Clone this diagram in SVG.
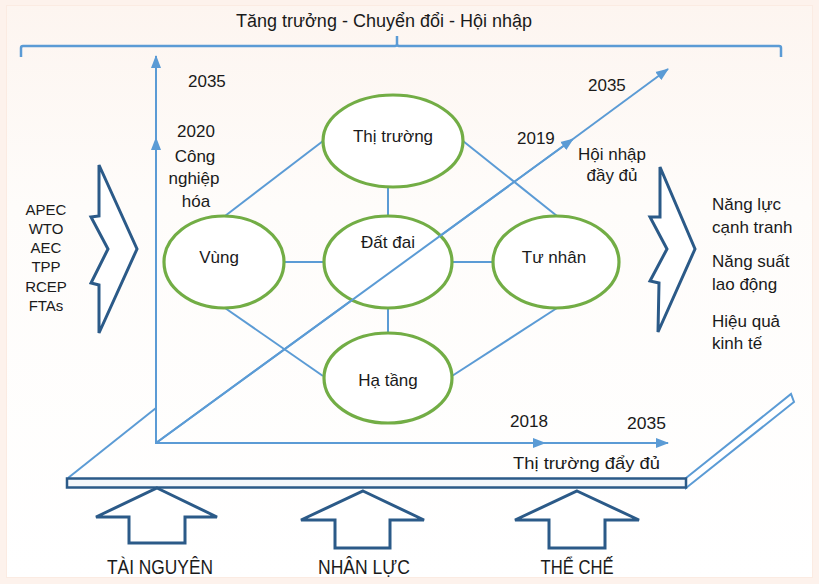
<svg xmlns="http://www.w3.org/2000/svg" width="819" height="584" viewBox="0 0 819 584">
<defs>
<linearGradient id="bg" x1="0" y1="0" x2="0" y2="1">
<stop offset="0" stop-color="#fdf5f0"/>
<stop offset="0.35" stop-color="#fefcfa"/>
<stop offset="1" stop-color="#ffffff"/>
</linearGradient>
<marker id="ah" markerUnits="userSpaceOnUse" markerWidth="14" markerHeight="12" refX="12" refY="6" orient="auto" viewBox="0 0 14 12">
<path d="M0,1 L13,6 L0,11 Z" fill="#5b9bd5"/>
</marker>
<style>
.ax{stroke:#5b9bd5;stroke-width:2;fill:none}
.cn{stroke:#5b9bd5;stroke-width:2;fill:none}
.el{stroke:#72ad45;stroke-width:3.2;fill:#ffffff}
.dk{stroke:#2b5a88;stroke-width:3;fill:#ffffff;stroke-linejoin:miter}
.t{font-family:"Liberation Sans",Arial,sans-serif;fill:#1a1a1a}
.n{font-size:17px;text-anchor:middle}
.s{font-size:15px}
.c{font-size:17px}
.b{font-size:20px;text-anchor:middle}
</style>
</defs>
<rect x="0" y="0" width="819" height="584" fill="#fdf2ec"/>
<rect x="6.5" y="5.5" width="806" height="572" fill="url(#bg)" stroke="#fbebe2" stroke-width="1"/>

<!-- title and bracket -->
<g id="title">
<text class="t" x="384" y="27" font-size="18" text-anchor="middle" textLength="296" lengthAdjust="spacingAndGlyphs">Tăng trưởng - Chuyển đổi - Hội nhập</text>
<path d="M21,57 L21,48 Q21,46 23,46 L395,46 Q397,46 397,44 L397,36 M397,36 L397,44 Q397,46 399,46 L779,46 Q781,46 781,48 L781,57" fill="none" stroke="#5b9bd5" stroke-width="2.5"/>
</g>

<!-- platform -->
<g id="platform">
<line class="ax" x1="68" y1="478" x2="156" y2="408"/>
<polygon points="686,478 791,394 794,402 686,488" fill="#ffffff" stroke="#5b9bd5" stroke-width="2"/>
<rect x="67" y="478.5" width="619" height="9" fill="#f4f7fb" stroke="#2b5a88" stroke-width="2.5"/>
</g>

<!-- axes -->
<g id="axes">
<line class="ax" x1="156" y1="444" x2="156" y2="138" marker-end="url(#ah)"/>
<line class="ax" x1="156" y1="138" x2="156" y2="56" marker-end="url(#ah)"/>
<line class="ax" x1="155" y1="443" x2="545" y2="443" marker-end="url(#ah)"/>
<line class="ax" x1="545" y1="443" x2="668" y2="443" marker-end="url(#ah)"/>
<line class="ax" x1="156" y1="443" x2="573" y2="139" marker-end="url(#ah)"/>
<line class="ax" x1="573" y1="139" x2="668" y2="69" marker-end="url(#ah)"/>
</g>

<!-- connectors -->
<g id="connectors">
<line class="cn" x1="225" y1="216" x2="323" y2="141"/>
<line class="cn" x1="463" y1="141" x2="557" y2="216"/>
<line class="cn" x1="388" y1="187" x2="388" y2="216"/>
<line class="cn" x1="284" y1="262" x2="324" y2="262"/>
<line class="cn" x1="452" y1="262" x2="493" y2="262"/>
<line class="cn" x1="388" y1="308" x2="388" y2="333"/>
<line class="cn" x1="225" y1="308" x2="323" y2="376"/>
<line class="cn" x1="452" y1="376" x2="557" y2="308"/>
</g>

<g id="node-thitruong">
<ellipse class="el" cx="393" cy="141" rx="70" ry="46"/>
<text class="t n" x="393" y="142">Thị trường</text>
</g>
<g id="node-vung">
<ellipse class="el" cx="224" cy="262" rx="60" ry="46"/>
<text class="t n" x="219" y="263">Vùng</text>
</g>
<g id="node-datdai">
<ellipse class="el" cx="388" cy="262" rx="64" ry="46"/>
<text class="t n" x="388" y="248">Đất đai</text>
</g>
<g id="node-tunhan">
<ellipse class="el" cx="556" cy="262" rx="63" ry="46"/>
<text class="t n" x="554" y="263">Tư nhân</text>
</g>
<g id="node-hatang">
<ellipse class="el" cx="388" cy="378" rx="64" ry="45"/>
<text class="t n" x="388" y="386">Hạ tầng</text>
</g>
<g id="diag-over">
<line class="ax" x1="156" y1="443" x2="573" y2="139"/>
</g>

<!-- axis labels -->
<g id="labels-vertical">
<text class="t c" x="188" y="87">2035</text>
<text class="t c" x="196" y="137" text-anchor="middle">2020</text>
<text class="t c" x="195" y="162" text-anchor="middle">Công</text>
<text class="t c" x="194" y="184" text-anchor="middle">nghiệp</text>
<text class="t c" x="196" y="207" text-anchor="middle">hóa</text>
</g>
<g id="labels-diagonal">
<text class="t c" x="588" y="91">2035</text>
<text class="t c" x="517" y="144">2019</text>
<text class="t c" x="612" y="160" text-anchor="middle">Hội nhập</text>
<text class="t c" x="612" y="181" text-anchor="middle">đầy đủ</text>
</g>
<g id="labels-horizontal">
<text class="t" x="510" y="427" font-size="17" textLength="38" lengthAdjust="spacingAndGlyphs">2018</text>
<text class="t" x="627" y="429" font-size="17" textLength="39" lengthAdjust="spacingAndGlyphs">2035</text>
<text class="t" x="513" y="469" font-size="17" textLength="147" lengthAdjust="spacingAndGlyphs">Thị trường đẩy đủ</text>
</g>

<!-- left chevron -->
<g id="left-chevron">
<polygon class="dk" points="99,165 137,249 99,333 99,285 91,283 108,249 91,217 99,216"/>
<text class="t s" x="46" y="215" text-anchor="middle">APEC</text>
<text class="t s" x="46" y="234" text-anchor="middle">WTO</text>
<text class="t s" x="46" y="253" text-anchor="middle">AEC</text>
<text class="t s" x="46" y="272" text-anchor="middle">TPP</text>
<text class="t s" x="46" y="292" text-anchor="middle">RCEP</text>
<text class="t s" x="46" y="311" text-anchor="middle">FTAs</text>
</g>

<!-- right chevron -->
<g id="right-chevron">
<polygon class="dk" points="660,167 695,249 658,332 659,283 650,281 667,249 650,217 660,217"/>
<text class="t c" x="712" y="210">Năng lực</text>
<text class="t c" x="712" y="233">cạnh tranh</text>
<text class="t c" x="712" y="267">Năng suất</text>
<text class="t c" x="712" y="290">lao động</text>
<text class="t c" x="712" y="327">Hiệu quả</text>
<text class="t c" x="712" y="349">kinh tế</text>
</g>

<!-- bottom arrows -->
<g id="arrow-tainguyen">
<polygon class="dk" points="157,488 217,517 185,517 185,543 129,543 129,517 96,517"/>
<text class="t b" x="160" y="574" textLength="106" lengthAdjust="spacingAndGlyphs">TÀI NGUYÊN</text>
</g>
<g id="arrow-nhanluc">
<polygon class="dk" points="363,491 424,520 390,520 390,548 335,548 335,520 301,520"/>
<text class="t b" x="364" y="574" textLength="92" lengthAdjust="spacingAndGlyphs">NHÂN LỰC</text>
</g>
<g id="arrow-thieche">
<polygon class="dk" points="577,491 639,520 605,520 605,548 549,548 549,520 515,520"/>
<text class="t b" x="577" y="574" textLength="73" lengthAdjust="spacingAndGlyphs">THỂ CHẾ</text>
</g>
</svg>
